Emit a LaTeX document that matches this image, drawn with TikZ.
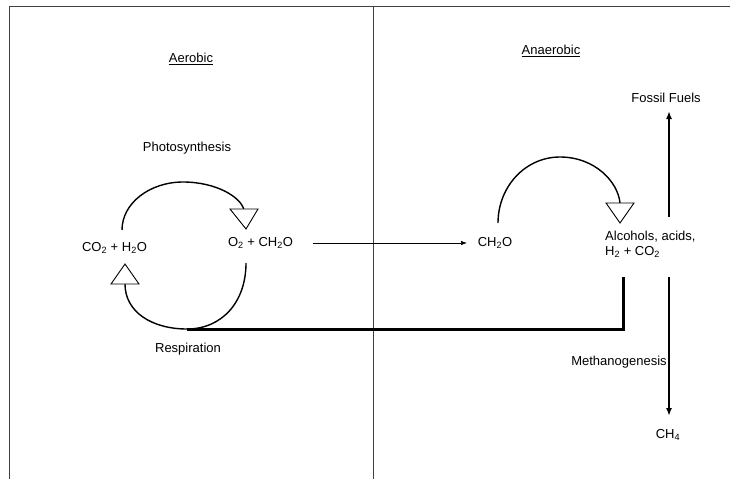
\documentclass[tikz,border=0pt]{standalone}
\usepackage{fontspec}
\setmainfont{Liberation Sans}
\usetikzlibrary{arrows.meta}
\begin{document}
\begin{tikzpicture}[x=1pt,y=-1pt,
  lbl/.style={inner sep=0pt,font=\fontsize{13}{15.5}\selectfont},
  frameline/.style={draw=black!75,line width=0.9pt},
  arcline/.style={draw=black,line width=1.4pt},
  hollowtri/.style={draw=black,fill=white,line width=0.9pt,line join=miter},
  thickline/.style={draw=black,line width=3pt},
  vertarrow/.style={draw=black,line width=2pt,-{Latex[length=8pt,width=6pt]}},
  thinarrow/.style={draw=black,line width=0.7pt,-{Latex[length=6pt,width=4.5pt]}}]
\useasboundingbox (0,0) rectangle (730,479);
% frame
\coordinate (tl) at (9,6);
\coordinate (tr) at (730,6);
\coordinate (bl) at (9,479);
\coordinate (mt) at (373,6);
\coordinate (mb) at (373,479);
\draw[frameline] (tr) -- (tl) -- (bl);
\draw[frameline] (mt) -- (mb);
% headings
\node[lbl] (aer) at (191,59) {\underline{Aerobic}};
\node[lbl] (anaer) at (551,51) {\underline{Anaerobic}};
% labels
\node[lbl] (photo) at (187,148) {Photosynthesis};
\node[lbl] (resp) at (188,349) {Respiration};
\node[lbl] (co2) at (114.5,248) {CO\textsubscript{2} + H\textsubscript{2}O};
\node[lbl] (o2) at (260.5,243) {O\textsubscript{2} + CH\textsubscript{2}O};
\node[lbl] (ch2o) at (495,243) {CH\textsubscript{2}O};
\node[lbl,align=left,anchor=west] (alc) at (605,244.5) {Alcohols, acids,\\[-1pt]H\textsubscript{2} + CO\textsubscript{2}};
\node[lbl] (fossil) at (666,98) {Fossil Fuels};
\node[lbl] (meth) at (619,362) {Methanogenesis};
\node[lbl] (ch4) at (668,435) {CH\textsubscript{4}};
% arc end points
\coordinate (p1s) at (122,230);
\coordinate (p1e) at (244,210);
\coordinate (r1s) at (246,263);
\coordinate (rbot) at (187,329);
\coordinate (r1e) at (125,284);
\coordinate (a1s) at (498,223);
\coordinate (a1e) at (620,203);
% photosynthesis arc
\draw[arcline] (p1s) .. controls (122,203) and (150,182) .. (183,182) .. controls (216,182) and (241,197) .. (p1e);
\draw[hollowtri] (230,209) -- (258,209) -- (246,229) -- cycle;
% respiration arc
\draw[arcline] (r1s) .. controls (246,302) and (222,329) .. (rbot) .. controls (152,329) and (125,312) .. (r1e);
\draw[hollowtri] (111,284) -- (139,284) -- (125,264) -- cycle;
% anaerobic arc
\draw[arcline] (a1s) .. controls (498,187) and (525,157) .. (560,157) .. controls (595,157) and (618,182) .. (a1e);
\draw[hollowtri] (606,203) -- (634,203) -- (620,223) -- cycle;
% thin arrow
\draw[thinarrow] (o2.east) ++(20,0) coordinate (ta) (ta) -- (ch2o.west -| 467,0);
% thick connector
\coordinate (tk1) at (623,329);
\coordinate (tk2) at (623,277);
\draw[thickline,line join=miter] (rbot) -- (tk1) -- (tk2);
% vertical arrows
\coordinate (fup) at (669,217);
\coordinate (fdn) at (669,277);
\draw[vertarrow] (fup) -- (669,111) coordinate (ftip);
\draw[vertarrow] (fdn) -- (669,416) coordinate (mtip);
\end{tikzpicture}
\end{document}
